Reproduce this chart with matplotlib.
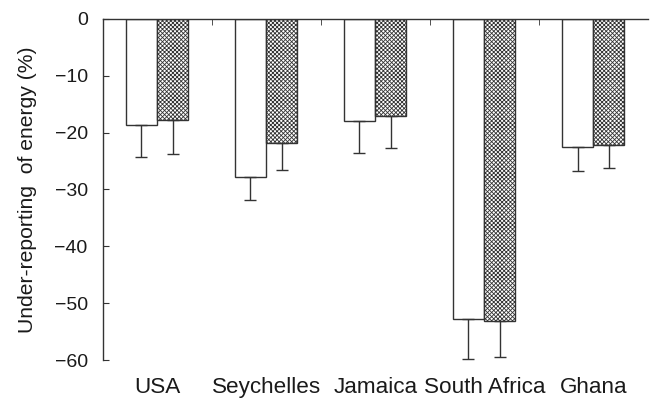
import numpy as np
import matplotlib.pyplot as plt

plt.rcParams['font.family'] = ['Liberation Sans', 'DejaVu Sans']
plt.rcParams['hatch.linewidth'] = 0.6

countries = ["USA", "Seychelles", "Jamaica", "South Africa", "Ghana"]
open_vals = [-18.6, -27.8, -17.9, -52.7, -22.6]
open_err = [5.7, 4.0, 5.7, 7.1, 4.1]
hatched_vals = [-17.8, -21.8, -17.0, -53.1, -22.2]
hatched_err = [5.9, 4.7, 5.7, 6.3, 4.1]

fig = plt.figure(figsize=(6.52, 4.01), dpi=100)
ax = fig.add_axes([0.158, 0.102, 0.836, 0.851])

x = np.arange(len(countries))
w = 0.285
ec = "#333333"

ax.bar(x + 0.495 - w / 2, open_vals, w, color="white", edgecolor=ec, linewidth=1.0)
ax.bar(x + 0.495 + w / 2, hatched_vals, w, color="white", edgecolor=ec,
       linewidth=1.0, hatch="xxxxxxxx")

# error bars only downward
ax.errorbar(x + 0.495 - w / 2, open_vals, yerr=[open_err, [0] * 5], fmt="none",
            ecolor=ec, elinewidth=1.0, capsize=4, capthick=1.0)
ax.errorbar(x + 0.495 + w / 2, hatched_vals, yerr=[hatched_err, [0] * 5], fmt="none",
            ecolor=ec, elinewidth=1.0, capsize=4, capthick=1.0)

ax.set_xlim(0, 5)
ax.set_ylim(-60, 0)
ax.set_yticks(np.arange(-60, 1, 10))
ax.set_yticklabels(["\u221260", "\u221250", "\u221240", "\u221230", "\u221220", "\u221210", "0"])

ax.spines["right"].set_visible(False)
ax.spines["bottom"].set_visible(False)
for s in ["left", "top"]:
    ax.spines[s].set_color(ec)
    ax.spines[s].set_linewidth(1.0)

ax.set_xticks(x + 0.5)
ax.set_xticklabels(countries, fontsize=16.2, color="#1a1a1a")
ax.tick_params(axis="x", which="major", length=0, pad=12)
ax.set_xticks(np.arange(0, 5), minor=True)
ax.tick_params(axis="x", which="minor", top=True, bottom=False, direction="in",
               length=4, color=ec)
ax.tick_params(axis="y", direction="in", length=4, color=ec, labelsize=14,
               labelcolor="#1a1a1a", pad=11)

ax.set_ylabel("Under-reporting  of energy (%)", fontsize=15.2, color="#1a1a1a")
ax.yaxis.set_label_coords(-0.122, 0.5)

fig.savefig("out.png", dpi=100)
